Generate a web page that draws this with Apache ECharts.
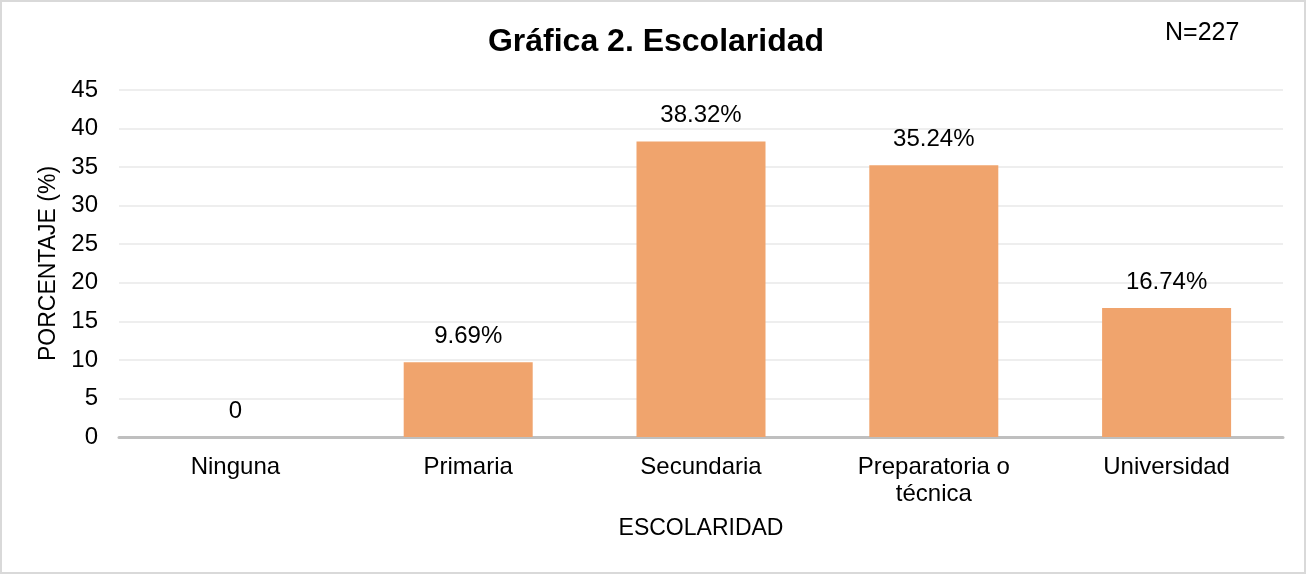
<!DOCTYPE html>
<html>
<head>
<meta charset="utf-8">
<script src="https://cdn.jsdelivr.net/npm/echarts@6/dist/echarts.min.js"></script>
<style>
html,body{margin:0;padding:0;background:#fff;}
#chart{width:1312px;height:575px;}
</style>
</head>
<body>
<div id="chart"></div>
<script>
var categories = ['Ninguna', 'Primaria', 'Secundaria', 'Preparatoria o\ntécnica', 'Universidad'];
var porcentajes = [0, 9.69, 38.32, 35.24, 16.74];
var yTicks = {min: 0, max: 45, interval: 5};
var muestra = 'N=227';

var font = '"Liberation Sans", Arial, sans-serif';
var myChart = echarts.init(document.getElementById('chart'), null, {renderer: 'canvas'});
var option = {
	backgroundColor: '#fff',
	title: [{
		text: 'Gráfica 2. Escolaridad',
		left: 'center',
		top: 21,
		textStyle: {fontFamily: font, fontSize: 32, fontWeight: 'bold', color: '#000'}
	}, {
		text: muestra,
		left: 1160,
		top: 16,
		textStyle: {fontFamily: font, fontSize: 25, fontWeight: 'normal', color: '#000'}
	}],
	graphic: [{
		type: 'rect',
		shape: {x: 1, y: 1, width: 1304, height: 572},
		style: {fill: 'none', stroke: '#d9d9d9', lineWidth: 2},
		silent: true
	}],
	grid: {left: 119, right: 29, top: 90, bottom: 138},
	xAxis: {
		type: 'category',
		data: categories,
		name: 'ESCOLARIDAD',
		nameLocation: 'middle',
		nameGap: 80,
		nameTextStyle: {fontFamily: font, fontSize: 23, color: '#000'},
		axisLine: {lineStyle: {color: '#bfbfbf', width: 3}},
		axisTick: {show: false},
		axisLabel: {fontFamily: font, fontSize: 24, color: '#000', margin: 17, lineHeight: 27}
	},
	yAxis: {
		type: 'value',
		min: yTicks.min,
		max: yTicks.max,
		interval: yTicks.interval,
		name: 'PORCENTAJE (%)',
		nameLocation: 'middle',
		nameGap: 56,
		nameRotate: 90,
		nameTextStyle: {fontFamily: font, fontSize: 23, color: '#000'},
		axisLine: {show: false},
		axisTick: {show: false},
		axisLabel: {fontFamily: font, fontSize: 24, color: '#000', margin: 21},
		splitLine: {lineStyle: {color: '#eeeeee', width: 2}}
	},
	series: [{
		type: 'bar',
		data: porcentajes,
		barWidth: 129,
		itemStyle: {color: '#f0a46d'},
		label: {
			show: true,
			position: 'top',
			distance: 14,
			fontFamily: font,
			fontSize: 24,
			color: '#000',
			formatter: function (p) {
				return p.value === 0 ? '0' : p.value.toFixed(2) + '%';
			}
		}
	}]
};
myChart.setOption(option);
</script>
</body>
</html>
